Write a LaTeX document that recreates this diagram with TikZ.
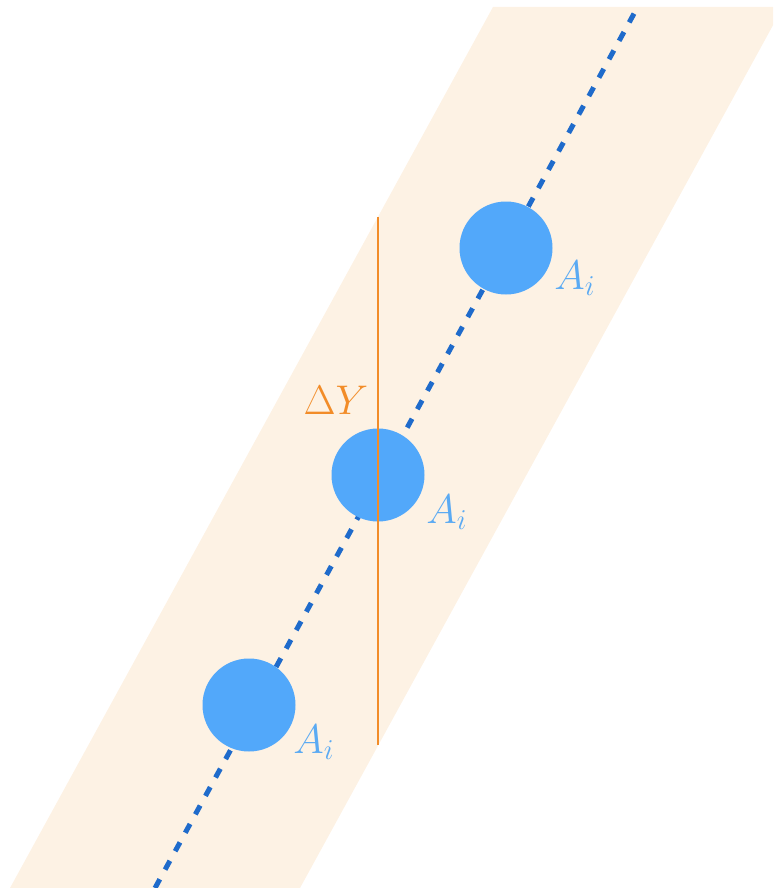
\documentclass[tikz,border=0pt]{standalone}
\usepackage{tikz}
\usepackage{xcolor}
\definecolor{BandFill}{HTML}{FDF2E4}
\definecolor{LineBlue}{HTML}{1F6BCB}
\definecolor{PointBlue}{HTML}{52A8FA}
\definecolor{LabelBlue}{HTML}{5AAAF3}
\definecolor{SpanOrange}{HTML}{F28C28}
\tikzset{
  point/.style={circle, fill=PointBlue, minimum size=46.5pt, inner sep=0pt},
  alabel/.style={text=LabelBlue, font=\fontsize{20}{24}\selectfont, inner sep=0pt},
  trendline/.style={LineBlue, line width=2.5pt, dash pattern=on 5pt off 5.5pt},
  spanline/.style={SpanOrange, line width=1.4pt},
}

\begin{document}
\begin{tikzpicture}[x=0.5pt, y=-0.5pt]

% Canvas
\useasboundingbox (0,0) rectangle (773,888);
\clip (0,0) rectangle (773,888);

% Band around the trend line
\fill[BandFill] (10,888) -- (493,7) -- (783,7) -- (300,888) -- cycle;

% Dashed trend line
\coordinate (lineBot) at (155,888);
\coordinate (lineTop) at (636,10);
\draw[trendline] (lineBot) -- (lineTop);

% Data points
\node[point] (p1) at (249,705) {};
\node[point] (p2) at (378,475) {};
\node[point] (p3) at (506,248) {};

% Point labels
\node[alabel] (l1) at ([shift={(65,37)}]p1) {$A_i$};
\node[alabel] (l2) at ([shift={(69,37)}]p2) {$A_i$};
\node[alabel] (l3) at ([shift={(69,30)}]p3) {$A_i$};

% Vertical span
\coordinate (spanTop) at (378,217);
\coordinate (spanBot) at (378,745);
\draw[spanline] (spanTop) -- (spanBot);
\node[alabel, text=SpanOrange] (dy) at (336,400) {$\Delta Y$};

\end{tikzpicture}
\end{document}
